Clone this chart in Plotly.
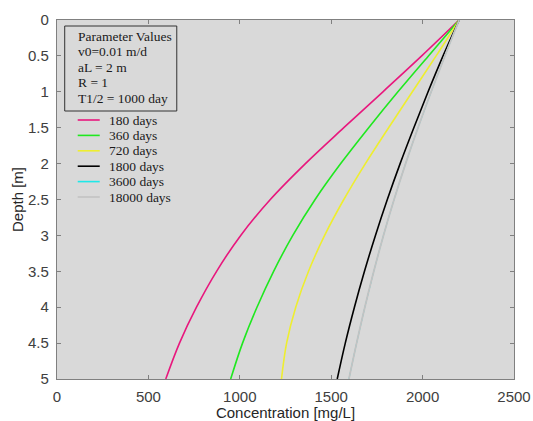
import plotly.graph_objects as go

# ---- data ----
depth = [0.0, 0.5, 1.0, 1.5, 2.0, 2.5, 3.0, 3.5, 4.0, 4.5, 5.0]
c_180 = [2200, 1995, 1783, 1569, 1359, 1167, 1005, 873, 763, 670, 595]
c_360 = [2200, 2032, 1865, 1705, 1552, 1412, 1290, 1185, 1094, 1015, 950]
c_720 = [2200, 2074, 1944, 1814, 1687, 1569, 1464, 1376, 1306, 1256, 1228]
c_1800 = [2200, 2112, 2030, 1952, 1877, 1807, 1742, 1682, 1627, 1577, 1533]
c_3600 = [2200, 2122, 2047, 1975, 1907, 1844, 1786, 1733, 1684, 1639, 1597]
c_18000 = [2200, 2122, 2047, 1975, 1907, 1844, 1786, 1733, 1684, 1639, 1597]

series_names = ["180 days", "360 days", "720 days", "1800 days", "3600 days", "18000 days"]
series_values = [c_180, c_360, c_720, c_1800, c_3600, c_18000]
series_colors = ["#e8177d", "#1fe81f", "#eeee30", "#000000", "#1fe8e8", "#c2c2c2"]
series_widths = [1.6, 1.6, 1.6, 1.6, 1.0, 1.8]

param_lines = ["Parameter Values", "v0=0.01 m/d", "aL = 2 m", "R = 1", "T1/2 = 1000 day"]

x_ticks = [0, 500, 1000, 1500, 2000, 2500]
y_ticks = [0, 0.5, 1, 1.5, 2, 2.5, 3, 3.5, 4, 4.5, 5]
y_ticklabels = ["0", "0.5", "1", "1.5", "2", "2.5", "3", "3.5", "4", "4.5", "5"]

# ---- layout geometry (window pixels; page body margin removed below) ----
W, H = 533, 421
PL, PR, PT, PB = 57.3, 514.0, 20.0, 379.0


def px(x):
    return (x - PL) / (PR - PL)


def py(y):
    return (PB - y) / (PB - PT)


fig = go.Figure()
for name, vals, col, lw in zip(series_names, series_values, series_colors, series_widths):
    fig.add_trace(go.Scatter(
        x=vals, y=depth, mode="lines", name=name,
        line=dict(color=col, width=lw, shape="spline", smoothing=1.0),
        showlegend=False,
    ))

serif = "Liberation Serif, Times New Roman, serif"
sans = "Liberation Sans, Arial, sans-serif"

shapes = []
annotations = []
# parameter box
shapes.append(dict(type="rect", xref="paper", yref="paper",
                   x0=px(65), x1=px(177), y0=py(111), y1=py(26),
                   line=dict(color="#333333", width=1), fillcolor="rgba(0,0,0,0)"))
for i, t in enumerate(param_lines):
    annotations.append(dict(xref="paper", yref="paper", x=px(76.5), y=py(36 + 15.5 * i),
                            xanchor="left", yanchor="middle", text=t, showarrow=False,
                            font=dict(family=serif, size=13.5, color="#1a1a1a")))
# manual legend
for i, (name, col) in enumerate(zip(series_names, series_colors)):
    yy = py(120 + 15.4 * i)
    shapes.append(dict(type="line", xref="paper", yref="paper",
                       x0=px(78), x1=px(100), y0=yy, y1=yy,
                       line=dict(color=col, width=1.6)))
    annotations.append(dict(xref="paper", yref="paper", x=px(107), y=yy,
                            xanchor="left", yanchor="middle", text=name, showarrow=False,
                            font=dict(family=serif, size=13.5, color="#1a1a1a")))

fig.update_layout(
    width=W, height=H,
    margin=dict(l=PL, r=W - PR, t=PT, b=H - PB, pad=0, autoexpand=False),
    paper_bgcolor="white", plot_bgcolor="#d9d9d9",
    shapes=shapes, annotations=annotations,
    showlegend=False,
)
fig.update_xaxes(
    range=[0, 2500], tickvals=x_ticks, ticktext=[str(v) for v in x_ticks],
    showgrid=False, zeroline=False, showline=True, linecolor="#808080", linewidth=1.2,
    mirror="ticks", ticks="inside", ticklen=4, tickcolor="#808080", automargin=False,
    ticklabeloverflow="allow",
    tickfont=dict(family=sans, size=15, color="#404040"), ticklabelstandoff=4,
    title=dict(text="Concentration [mg/L]", font=dict(family=sans, size=15, color="#262626"), standoff=10),
)
fig.update_yaxes(
    range=[5, 0], tickvals=y_ticks, ticktext=y_ticklabels,
    showgrid=False, zeroline=False, showline=True, linecolor="#808080", linewidth=1.2,
    mirror="ticks", ticks="inside", ticklen=4, tickcolor="#808080", automargin=False,
    tickfont=dict(family=sans, size=15, color="#404040"), ticklabelstandoff=4,
    title=dict(text="Depth [m]", font=dict(family=sans, size=15, color="#262626"), standoff=0),
)

fig.write_html("out.html", config={"displayModeBar": False},
               post_script="document.body.style.margin='0';")
